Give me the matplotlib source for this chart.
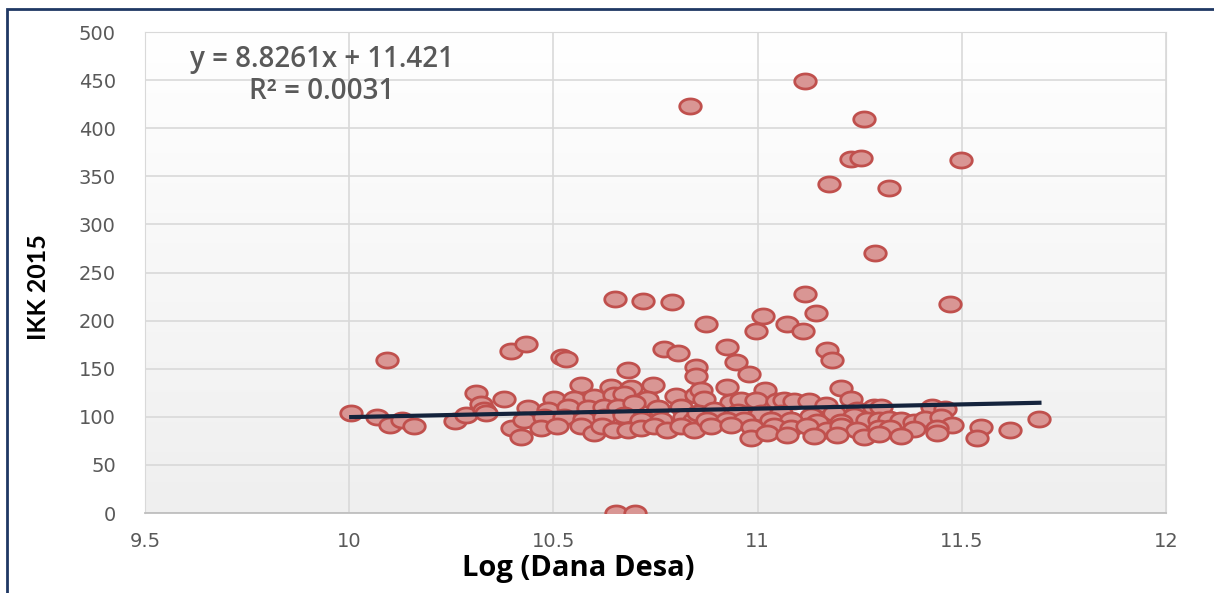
import numpy as np
import matplotlib
matplotlib.use("Agg")
import matplotlib.pyplot as plt
from matplotlib.path import Path
from matplotlib.patches import Rectangle

# Log (Dana Desa) vs IKK 2015
log_dana = [
    # outliers
    11.116, 10.835, 11.260, 11.229, 11.253, 11.498, 11.175, 11.322, 11.287,
    10.652, 10.720, 10.791, 11.116, 11.471, 10.874, 11.013, 11.143, 10.996,
    11.072, 11.111, 10.654, 10.700,
    # left part
    10.005, 10.092, 10.067, 10.101, 10.130, 10.158, 10.260, 10.287, 10.311,
    10.323, 10.331, 10.335, 10.380, 10.397, 10.399,
    # 10.4 - 10.85
    10.433, 10.522, 10.531, 10.682, 10.771, 10.804, 10.849, 10.849, 10.568,
    10.641, 10.690, 10.743, 10.502, 10.550, 10.600, 10.649, 10.674, 10.730,
    10.800, 10.850, 10.437, 10.486, 10.535, 10.584, 10.625, 10.657, 10.698,
    10.755, 10.812, 10.429, 10.478, 10.527, 10.576, 10.625, 10.674, 10.714,
    10.763, 10.820, 10.845, 10.421, 10.470, 10.510, 10.568, 10.600, 10.620,
    10.649, 10.682, 10.714, 10.747, 10.779, 10.812, 10.845,
    # 10.85 - 11.3
    10.926, 10.947, 10.979, 11.171, 11.183, 10.861, 10.926, 11.018, 11.203,
    11.228, 10.869, 10.934, 10.959, 10.995, 11.048, 11.065, 11.089, 11.126,
    11.167, 11.244, 11.285, 10.853, 10.894, 10.951, 11.008, 11.057, 11.130,
    11.187, 11.236, 10.877, 10.926, 10.967, 11.032, 11.081, 11.146, 11.203,
    11.268, 10.885, 10.934, 10.987, 11.040, 11.081, 11.122, 11.171, 11.203,
    11.244, 10.983, 11.024, 11.073, 11.138, 11.195, 11.260,
    # right part
    11.301, 11.427, 11.460, 11.297, 11.322, 11.350, 11.383, 11.411, 11.448,
    11.476, 11.297, 11.325, 11.383, 11.440, 11.297, 11.350, 11.440, 11.546,
    11.536, 11.619, 11.690,
]
ikk = [
    449, 423, 410, 368, 369, 367, 342, 338, 270,
    222, 220, 219, 228, 217, 196, 205, 208, 189,
    196, 189, 0, 0,
    104, 159, 100, 91, 97, 90, 96, 101.5, 125,
    113, 107, 104, 118, 168, 88,
    176, 162, 160, 149, 171, 166, 152, 142, 133,
    131, 130, 133, 119, 118, 121, 123, 124, 119,
    122, 123, 109, 107, 110.5, 109, 110.5, 110.5, 114,
    109, 110.5, 97, 100, 99.5, 98, 99.5, 102, 97,
    97, 100, 97, 79, 88, 90, 90, 83, 90,
    86, 86, 88, 90, 86, 90, 86,
    173, 157, 145, 169, 159, 128, 131, 128, 130,
    119, 119, 115, 117, 117, 116, 117, 116, 116,
    112, 107, 110.5, 104, 107, 105, 104, 104, 101,
    104, 101, 97, 97, 97, 97, 97, 95, 95,
    97, 90, 91.5, 89, 90, 88, 90, 86, 90,
    86, 78, 83, 81, 80, 81, 79,
    110.5, 110.5, 108, 97, 98, 97, 95, 98, 99.5,
    91.5, 88, 88, 87, 88, 82, 80, 83, 89,
    78, 86, 98,
]

# Excel linear trendline
slope = 8.8261
intercept = 11.421
r2 = 0.0031

fig = plt.figure(figsize=(12.14, 5.93), dpi=100)
ax = fig.add_axes([0.1194, 0.1349, 0.8411, 0.8111])

# plot area: white at top fading to light grey
grad = np.linspace(1.0, 0.0, 256).reshape(-1, 1)
ax.imshow(grad, cmap=matplotlib.colors.LinearSegmentedColormap.from_list("bg", ["#efefef", "#ffffff"]),
          extent=[9.5, 12, 0, 500], aspect="auto", zorder=0)

# slightly flattened circle, like the stretched screenshot
t = np.linspace(0, 2 * np.pi, 64)
ellipse = Path(np.column_stack([np.cos(t), 0.7 * np.sin(t)]), closed=True)

ax.plot(log_dana, ikk, linestyle="none", marker=ellipse, markersize=15.5,
        markerfacecolor="#d99694", markeredgecolor="#c0504d", markeredgewidth=2, zorder=3)

x0, x1 = min(log_dana), max(log_dana)
xs = np.array([x0, x1])
ax.plot(xs, slope * xs + intercept, color="#14233c", linewidth=3, zorder=4)

ax.set_xlim(9.5, 12)
ax.set_ylim(0, 500)
ax.set_xticks([9.5, 10, 10.5, 11, 11.5, 12])
ax.set_xticklabels(["9.5", "10", "10.5", "11", "11.5", "12"])
ax.set_yticks(np.arange(0, 501, 50))
ax.grid(True, color="#d9d9d9", linewidth=1.2)
ax.set_axisbelow(True)
for side in ["left", "top", "right"]:
    ax.spines[side].set_color("#d9d9d9")
ax.spines["bottom"].set_color("#bfbfbf")
ax.spines["bottom"].set_linewidth(1.3)
ax.tick_params(length=0, colors="#595959", labelsize=14)
ax.tick_params(axis="y", pad=21)
ax.tick_params(axis="x", pad=14)

ax.set_xlabel("Log (Dana Desa)", fontsize=21, fontweight="bold", family=["Open Sans", "DejaVu Sans"])
ax.xaxis.set_label_coords(0.424, -0.085)
ax.set_ylabel("IKK 2015", fontsize=18, fontweight="bold", family=["Lato", "DejaVu Sans"])
ax.yaxis.set_label_coords(-0.093, 0.47)

ax.text(0.173, 0.942, "y = %.4fx + %.3f" % (slope, intercept), transform=ax.transAxes,
        ha="center", va="center", fontsize=20, fontweight="semibold", color="#595959",
        family=["Open Sans", "DejaVu Sans"])
ax.text(0.173, 0.877, "R² = %.4f" % r2, transform=ax.transAxes,
        ha="center", va="center", fontsize=20, fontweight="semibold", color="#595959",
        family=["Open Sans", "DejaVu Sans"])

# dark frame of the cropped screenshot (top and left edges visible)
fig.patches.append(Rectangle((7 / 1214, -0.1), 1.2, 1 - 9 / 593 + 0.1, transform=fig.transFigure,
                             fill=False, edgecolor="#1f3864", linewidth=2))

fig.savefig("out.png", dpi=100)
